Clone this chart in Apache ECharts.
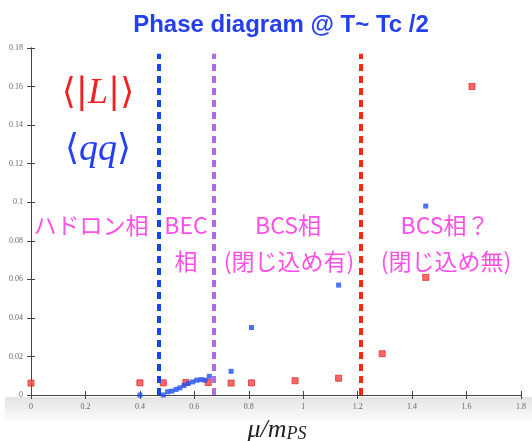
<!DOCTYPE html>
<html>
<head>
<meta charset="utf-8">
<script src="https://cdn.jsdelivr.net/npm/echarts@6/dist/echarts.min.js"></script>
<style>
  html, body { margin: 0; padding: 0; background: #fff; }
  #main { width: 532px; height: 441px; }
</style>
</head>
<body>
<div id="main"></div>
<script>
// Polyakov loop <|L|> (red) and diquark condensate <qq> (blue) vs mu/m_PS
var polyX = [0, 0.40, 0.486, 0.569, 0.651, 0.735, 0.81, 0.97, 1.13, 1.29, 1.45, 1.62];
var polyY = [0.0062, 0.0063, 0.0063, 0.0065, 0.0065, 0.0062, 0.0063, 0.0074, 0.0087, 0.0214, 0.061, 0.160];

var diqX = [0.40, 0.486, 0.502, 0.517, 0.533, 0.547, 0.562, 0.578, 0.594, 0.609, 0.625, 0.639, 0.655, 0.735, 0.81, 1.13, 1.45];
var diqY = [0, 0, 0.0017, 0.002, 0.0029, 0.0037, 0.0049, 0.006, 0.0068, 0.0077, 0.008, 0.0077, 0.0097, 0.0123, 0.035, 0.057, 0.098];

// phase boundaries: hadron|BEC, BEC|BCS, BCS|BCS?
var boundaries = [0.471, 0.671, 1.21];
var boundaryColors = ['#1646f0', '#b46be0', '#ff2a10'];

var xTicks = [0, 1.8, 0.2];
var yTicks = [0, 0.18, 0.02];

function pairs(xs, ys) {
  return xs.map(function (x, i) { return [x, ys[i]]; });
}

var chart = echarts.init(document.getElementById('main'));

var tickLabel = { color: '#666', fontSize: 8, fontFamily: 'Liberation Serif' };
var lineCol = '#444';
var pink = '#ff4fe6';
var cjk = '"Noto Sans CJK JP"';

var option = {
  backgroundColor: '#fff',
  animation: false,
  grid: { left: 31, right: 11, top: 48, bottom: 46 },
  xAxis: [{
    type: 'value', min: xTicks[0], max: xTicks[1], interval: xTicks[2],
    axisLine: { lineStyle: { color: lineCol, width: 1 } },
    axisTick: { inside: true, length: 4, lineStyle: { color: lineCol } },
    axisLabel: Object.assign({ margin: 8 }, tickLabel),
    splitLine: { show: false }
  }, {
    type: 'value', position: 'top', min: xTicks[0], max: xTicks[1], interval: xTicks[2],
    axisLine: { lineStyle: { color: lineCol, width: 1 } },
    axisTick: { inside: true, length: 4, lineStyle: { color: lineCol } },
    axisLabel: { show: false },
    splitLine: { show: false }
  }],
  yAxis: [{
    type: 'value', min: yTicks[0], max: yTicks[1], interval: yTicks[2],
    axisLine: { show: true, lineStyle: { color: lineCol, width: 1 } },
    axisTick: { show: true, inside: true, length: 4, lineStyle: { color: lineCol } },
    axisLabel: Object.assign({ margin: 8 }, tickLabel),
    splitLine: { show: false }
  }, {
    type: 'value', position: 'right', min: yTicks[0], max: yTicks[1], interval: yTicks[2],
    axisLine: { show: true, lineStyle: { color: lineCol, width: 1 } },
    axisTick: { show: true, inside: true, length: 4, lineStyle: { color: lineCol } },
    axisLabel: { show: false },
    splitLine: { show: false }
  }],
  series: [{
    name: 'boundaries',
    type: 'scatter',
    data: [],
    markLine: {
      silent: true,
      symbol: ['none', 'none'],
      label: { show: false },
      data: boundaries.map(function (b, i) {
        return [
          { coord: [b, 0.0], lineStyle: { color: boundaryColors[i], width: 4, type: [7, 5] } },
          { coord: [b, 0.177] }
        ];
      })
    }
  }, {
    name: '|L|',
    type: 'scatter',
    symbol: 'rect',
    symbolSize: 6,
    itemStyle: { color: '#f24444', borderColor: '#e82a2a', borderWidth: 1 },
    data: pairs(polyX, polyY),
    z: 4
  }, {
    name: 'qq',
    type: 'scatter',
    symbol: 'rect',
    symbolSize: 5,
    itemStyle: { color: '#1b4cf2' },
    data: pairs(diqX, diqY),
    z: 5
  }],
  graphic: [
    {
      type: 'rect', z: -10, silent: true,
      shape: { x: 5, y: 397, width: 527, height: 26 },
      style: {
        fill: new echarts.graphic.LinearGradient(0, 0, 0, 1, [
          { offset: 0, color: '#e4e4e4' },
          { offset: 0.6, color: '#f3f3f3' },
          { offset: 1, color: '#ffffff' }
        ])
      }
    },
    {
      type: 'text', x: 281, y: 25,
      style: {
        text: 'Phase diagram @ T~ Tc /2',
        fill: '#2440ee',
        font: 'bold 24px "Liberation Sans", Arial, sans-serif',
        textAlign: 'center', textVerticalAlign: 'middle'
      }
    },
    {
      type: 'text', x: 98, y: 94,
      style: {
        text: '{b|⟨|}{i|L}{b||⟩}',
        fill: '#ee2020',
        textAlign: 'center', textVerticalAlign: 'middle',
        rich: {
          b: { fontSize: 36, fontFamily: 'DejaVu Serif', fill: '#ee2020', color: '#ee2020' },
          i: { fontSize: 36, fontFamily: 'Liberation Serif', fontStyle: 'italic', fill: '#ee2020', color: '#ee2020' }
        }
      }
    },
    {
      type: 'text', x: 98, y: 150,
      style: {
        text: '{b|⟨}{i|qq}{b|⟩}',
        fill: '#2440ee',
        textAlign: 'center', textVerticalAlign: 'middle',
        rich: {
          b: { fontSize: 36, fontFamily: 'DejaVu Serif', fill: '#2440ee', color: '#2440ee' },
          i: { fontSize: 38, fontFamily: 'Liberation Serif', fontStyle: 'italic', fill: '#2440ee', color: '#2440ee' }
        }
      }
    },
    { type: 'text', x: 91, y: 225, style: { text: 'ハドロン相', fill: pink, font: '23px ' + cjk, textAlign: 'center', textVerticalAlign: 'middle' } },
    { type: 'text', x: 186, y: 225, style: { text: 'BEC', fill: pink, font: '23px ' + cjk, textAlign: 'center', textVerticalAlign: 'middle' } },
    { type: 'text', x: 186, y: 261, style: { text: '相', fill: pink, font: '23px ' + cjk, textAlign: 'center', textVerticalAlign: 'middle' } },
    { type: 'text', x: 288, y: 225, style: { text: 'BCS相', fill: pink, font: '23px ' + cjk, textAlign: 'center', textVerticalAlign: 'middle' } },
    { type: 'text', x: 289, y: 261, style: { text: '(閉じ込め有)', fill: pink, font: '23px ' + cjk, textAlign: 'center', textVerticalAlign: 'middle' } },
    { type: 'text', x: 445, y: 225, style: { text: 'BCS相？', fill: pink, font: '23px ' + cjk, textAlign: 'center', textVerticalAlign: 'middle' } },
    { type: 'text', x: 446, y: 261, style: { text: '(閉じ込め無)', fill: pink, font: '23px ' + cjk, textAlign: 'center', textVerticalAlign: 'middle' } },
    {
      type: 'text', x: 277, y: 430,
      style: {
        text: '{i|μ/m}{s|PS}',
        textAlign: 'center', textVerticalAlign: 'middle',
        rich: {
          i: { fontSize: 26, fontFamily: 'Liberation Serif', fontStyle: 'italic', fill: '#222', color: '#222' },
          s: { fontSize: 18, fontFamily: 'Liberation Serif', fontStyle: 'italic', fill: '#222', color: '#222', padding: [9, 0, 0, 0] }
        }
      }
    }
  ]
};

chart.setOption(option);
</script>
</body>
</html>
